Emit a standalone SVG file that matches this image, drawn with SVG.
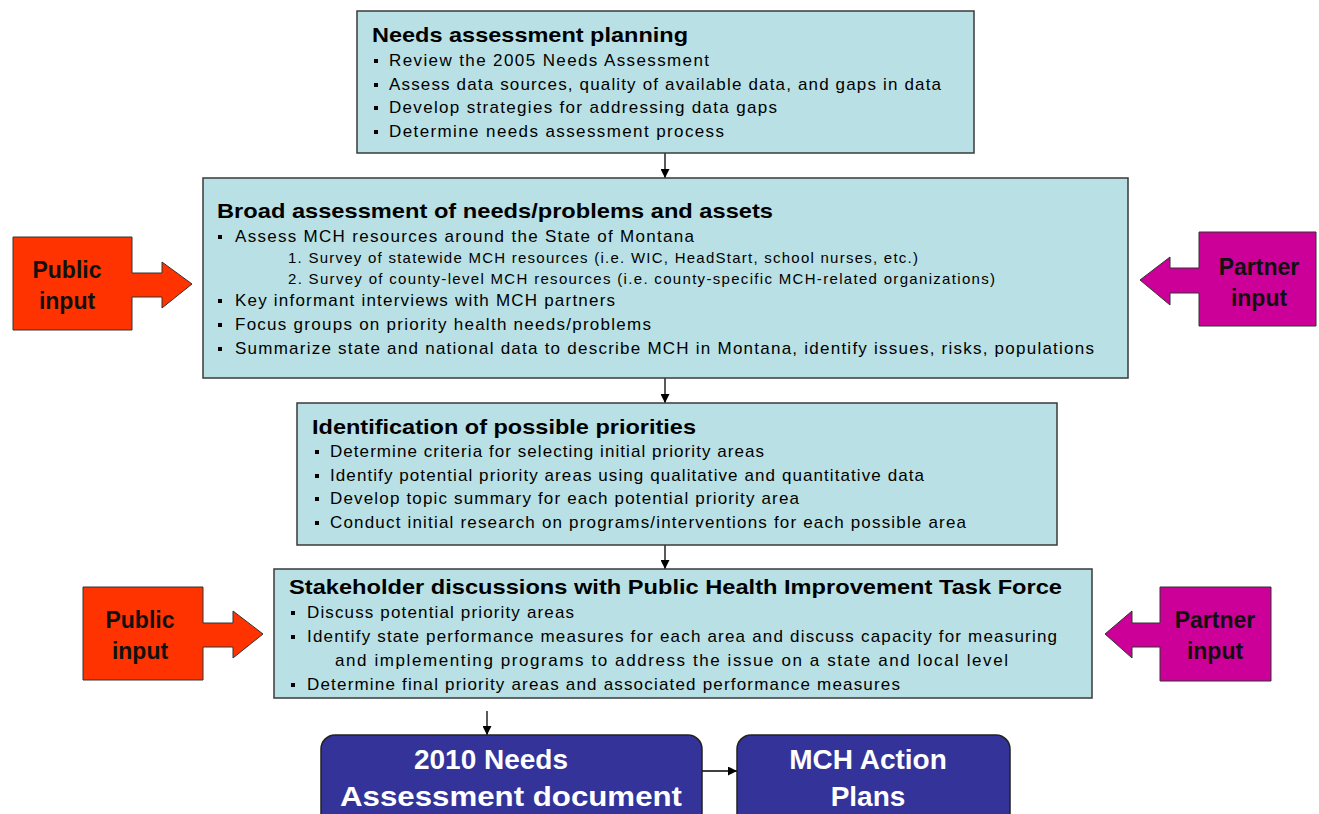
<svg xmlns="http://www.w3.org/2000/svg" width="1319" height="814" viewBox="0 0 1319 814">
<defs>
<style>
.box{fill:#b9e0e4;stroke:#3a3a3a;stroke-width:1.5}
.doc{fill:#333399;stroke:#222;stroke-width:1.5}
.pub{fill:#ff3300;stroke:#333;stroke-width:1}
.par{fill:#cc0099;stroke:#333;stroke-width:1}
.t{font-family:"Liberation Sans",Arial,sans-serif;font-weight:bold;font-size:21px;fill:#000}
.b{font-family:"Liberation Sans",Arial,sans-serif;font-size:17px;fill:#000}
.s{font-family:"Liberation Sans",Arial,sans-serif;font-size:15px;fill:#000}
.w{font-family:"Liberation Sans",Arial,sans-serif;font-weight:bold;font-size:28px;fill:#fff;text-anchor:middle}
.in{font-family:"Liberation Sans",Arial,sans-serif;font-weight:bold;font-size:23px;fill:#111;text-anchor:middle}
.bl{fill:#000}
.c{stroke:#000;stroke-width:1.3;fill:none}
</style>
<marker id="ah" viewBox="0 0 10 10" refX="10" refY="5" markerWidth="9" markerHeight="9" markerUnits="userSpaceOnUse" orient="auto">
<path d="M0,0 L10,5 L0,10 Z" fill="#000"/>
</marker>
</defs>

<g id="connectors">
<line class="c" x1="665" y1="153" x2="665" y2="178" marker-end="url(#ah)"/>
<line class="c" x1="665" y1="378" x2="665" y2="403" marker-end="url(#ah)"/>
<line class="c" x1="665" y1="545" x2="665" y2="569" marker-end="url(#ah)"/>
<line class="c" x1="487" y1="711" x2="487" y2="735" marker-end="url(#ah)"/>
<line class="c" x1="702" y1="771" x2="737" y2="771" marker-end="url(#ah)"/>
</g>

<g id="node-planning">
<rect class="box" x="357" y="11" width="617" height="142"/>
<text class="t" x="372" y="42" textLength="316" lengthAdjust="spacingAndGlyphs">Needs assessment planning</text>
<rect class="bl" x="374" y="59" width="4" height="4"/>
<text class="b" x="389" y="66" textLength="320">Review the 2005 Needs Assessment</text>
<rect class="bl" x="374" y="83" width="4" height="4"/>
<text class="b" x="389" y="90" textLength="552">Assess data sources, quality of available data, and gaps in data</text>
<rect class="bl" x="374" y="106" width="4" height="4"/>
<text class="b" x="389" y="113" textLength="388">Develop strategies for addressing data gaps</text>
<rect class="bl" x="374" y="130" width="4" height="4"/>
<text class="b" x="389" y="137" textLength="335">Determine needs assessment process</text>
</g>

<g id="node-broad">
<rect class="box" x="203" y="178" width="925" height="200"/>
<text class="t" x="217" y="218" textLength="556" lengthAdjust="spacingAndGlyphs">Broad assessment of needs/problems and assets</text>
<rect class="bl" x="218" y="235" width="4" height="4"/>
<text class="b" x="235" y="242" textLength="459">Assess MCH resources around the State of Montana</text>
<text class="s" x="288" y="263" textLength="630">1. Survey of statewide MCH resources (i.e. WIC, HeadStart, school nurses, etc.)</text>
<text class="s" x="288" y="284" textLength="707">2. Survey of county-level MCH resources (i.e. county-specific MCH-related organizations)</text>
<rect class="bl" x="218" y="299" width="4" height="4"/>
<text class="b" x="235" y="306" textLength="380">Key informant interviews with MCH partners</text>
<rect class="bl" x="218" y="323" width="4" height="4"/>
<text class="b" x="235" y="330" textLength="416">Focus groups on priority health needs/problems</text>
<rect class="bl" x="218" y="347" width="4" height="4"/>
<text class="b" x="235" y="354" textLength="859">Summarize state and national data to describe MCH in Montana, identify issues, risks, populations</text>
</g>

<g id="node-priorities">
<rect class="box" x="297" y="403" width="760" height="142"/>
<text class="t" x="312" y="434" textLength="384" lengthAdjust="spacingAndGlyphs">Identification of possible priorities</text>
<rect class="bl" x="315" y="450" width="4" height="4"/>
<text class="b" x="330" y="457" textLength="434">Determine criteria for selecting initial priority areas</text>
<rect class="bl" x="315" y="474" width="4" height="4"/>
<text class="b" x="330" y="481" textLength="594">Identify potential priority areas using qualitative and quantitative data</text>
<rect class="bl" x="315" y="497" width="4" height="4"/>
<text class="b" x="330" y="504" textLength="469">Develop topic summary for each potential priority area</text>
<rect class="bl" x="315" y="521" width="4" height="4"/>
<text class="b" x="330" y="528" textLength="636">Conduct initial research on programs/interventions for each possible area</text>
</g>

<g id="node-stakeholder">
<rect class="box" x="274" y="569" width="818" height="129"/>
<text class="t" x="289" y="594" textLength="773" lengthAdjust="spacingAndGlyphs">Stakeholder discussions with Public Health Improvement Task Force</text>
<rect class="bl" x="291" y="611" width="4" height="4"/>
<text class="b" x="307" y="618" textLength="267">Discuss potential priority areas</text>
<rect class="bl" x="291" y="635" width="4" height="4"/>
<text class="b" x="307" y="642" textLength="750">Identify state performance measures for each area and discuss capacity for measuring</text>
<text class="b" x="335" y="666" textLength="673">and implementing programs to address the issue on a state and local level</text>
<rect class="bl" x="291" y="683" width="4" height="4"/>
<text class="b" x="307" y="690" textLength="593">Determine final priority areas and associated performance measures</text>
</g>

<g id="node-document">
<rect class="doc" x="321" y="735" width="381" height="95" rx="14"/>
<text class="w" x="491" y="769">2010 Needs</text>
<text class="w" x="511" y="806" textLength="342" lengthAdjust="spacingAndGlyphs">Assessment document</text>
</g>

<g id="node-actionplans">
<rect class="doc" x="737" y="735" width="273" height="95" rx="14"/>
<text class="w" x="868" y="769">MCH Action</text>
<text class="w" x="868" y="806">Plans</text>
</g>

<g id="node-public1">
<path class="pub" d="M13,237 H132 V273 H162 V262 L192,284 L162,308 V297 H132 V330 H13 Z"/>
<text class="in" x="67" y="278">Public</text>
<text class="in" x="67" y="309">input</text>
</g>

<g id="node-partner1">
<path class="par" d="M1316,232 H1199 V268 H1170 V257 L1140,280 L1170,305 V293 H1199 V326 H1316 Z"/>
<text class="in" x="1259" y="275">Partner</text>
<text class="in" x="1259" y="306">input</text>
</g>

<g id="node-public2">
<path class="pub" d="M83,587 H203 V623 H233 V611 L263,634 L233,658 V647 H203 V680 H83 Z"/>
<text class="in" x="140" y="628">Public</text>
<text class="in" x="140" y="659">input</text>
</g>

<g id="node-partner2">
<path class="par" d="M1271,587 H1160 V623 H1132 V611 L1105,634 L1132,658 V647 H1160 V681 H1271 Z"/>
<text class="in" x="1215" y="628">Partner</text>
<text class="in" x="1215" y="659">input</text>
</g>
</svg>
